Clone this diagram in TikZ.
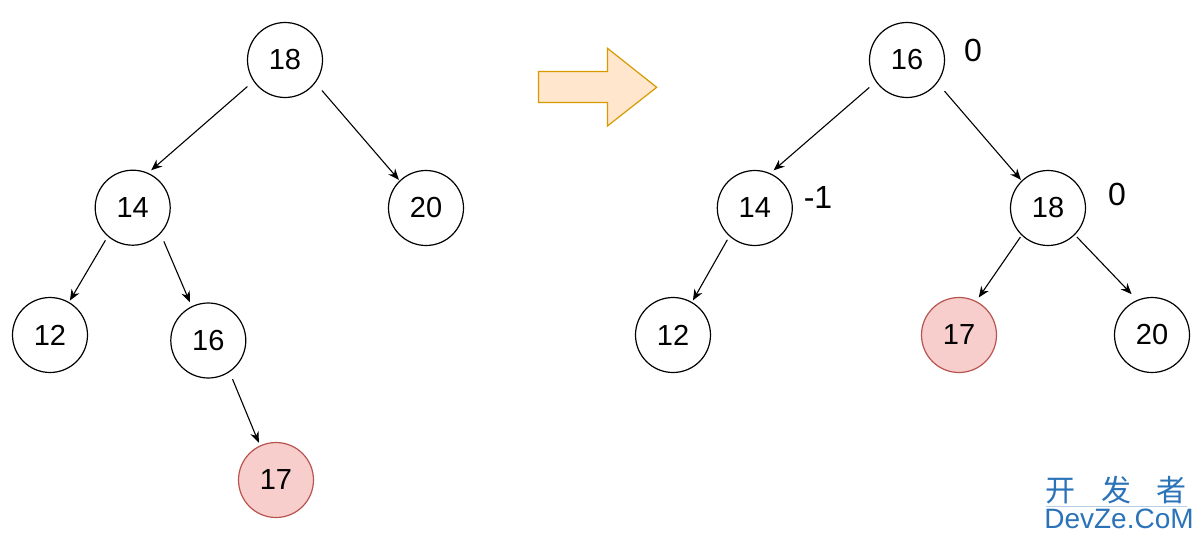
\documentclass[tikz,border=0pt]{standalone}
\usepackage{fontspec}
\setmainfont{Liberation Sans}
\newfontfamily\cjk{Noto Sans CJK SC}
\usetikzlibrary{arrows.meta}
\definecolor{pinkfill}{HTML}{F8CECC}
\definecolor{pinkdraw}{HTML}{B85450}
\definecolor{arrfill}{HTML}{FFE6CC}
\definecolor{arrdraw}{HTML}{D79B00}
\definecolor{wm}{HTML}{2B73B9}
\begin{document}
\begin{tikzpicture}[x=1pt,y=-1pt,
  tn/.style={circle,draw=black,line width=1.2pt,minimum size=75pt,inner sep=0pt,font=\fontsize{29}{32}\selectfont},
  hl/.style={tn,fill=pinkfill,draw=pinkdraw},
  edge/.style={line width=1.1pt,-{Stealth[length=11pt,width=9pt]}},
  bal/.style={font=\fontsize{32}{36}\selectfont}]
\useasboundingbox (0,0) rectangle (1202,541);
% left tree
\node[tn] (a18) at (285,60) {18};
\node[tn] (a14) at (132.7,207.7) {14};
\node[tn] (a20) at (426,208) {20};
\node[tn] (a12) at (50,335) {12};
\node[tn] (a16) at (208.3,340.5) {16};
\node[hl] (a17) at (276,480) {17};
\draw[edge,shorten <=8pt,shorten >=4pt] (a18.214) -- (a14.66);
\draw[edge,shorten <=10pt,shorten >=1pt] (a18.323) -- (a20.134);
\draw[edge,shorten <=4.5pt,shorten >=1.7pt] (a14.229) -- (a12.60);
\draw[edge,shorten <=8.4pt,shorten >=4.4pt] (a14.317) -- (a16.116);
\draw[edge,shorten <=7.7pt,shorten >=3pt] (a16.304) -- (a17.115);
% big arrow
\draw[fill=arrfill,draw=arrdraw,line width=1.2pt,line join=miter]
  (538.5,71.5) -- (607.5,71.5) -- (607.5,48.3) -- (656.7,87.3) -- (607.5,126) -- (607.5,102.5) -- (538.5,102.5) -- cycle;
% right tree
\node[tn] (b16) at (907,60) {16};
\node[tn] (b14) at (754.8,208) {14};
\node[tn] (b18) at (1048,208) {18};
\node[tn] (b12) at (673,335) {12};
\node[hl] (b17) at (959,335) {17};
\node[tn] (b20) at (1152,335) {20};
\draw[edge,shorten <=8.5pt,shorten >=4.3pt] (b16.215) -- (b14.66);
\draw[edge,shorten <=10.8pt,shorten >=1pt] (b16.323) -- (b18.134);
\draw[edge,shorten <=4pt,shorten >=1.8pt] (b14.228) -- (b12.60);
\draw[edge,shorten <=2pt,shorten >=4.3pt] (b18.226) -- (b17.63);
\draw[edge,shorten <=2.8pt,shorten >=8pt] (b18.315) -- (b20.113);
\node[bal] (l16) at (973,50) {0};
\node[bal] (l14) at (818,197) {-1};
\node[bal] (l18) at (1117,194) {0};
% watermark
\node[text=wm,font=\cjk\fontsize{30}{32}\selectfont] (wm1) at (1116,490) {开\hspace{25.5pt}发\hspace{25.5pt}者};
\draw[wm!35,line width=0.6pt] (1046,506.5) -- (1187,506.5);
\node[text=wm,font=\fontsize{28}{30}\selectfont] (wm2) at (1119,519) {DevZe.CoM};
\end{tikzpicture}
\end{document}
